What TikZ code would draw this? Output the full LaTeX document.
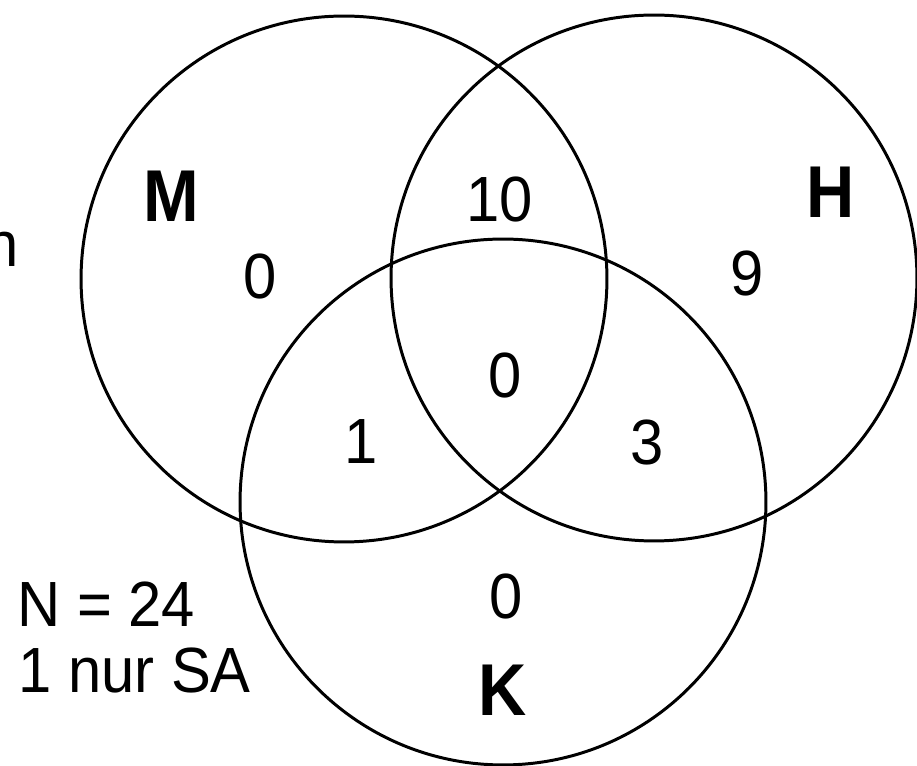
\documentclass[tikz,border=0pt]{standalone}
\usepackage{graphicx}
\usepackage{fontspec}
\setmainfont{Liberation Sans}
\usetikzlibrary{positioning}

\newcommand{\tallnum}[1]{\scalebox{1}[1.07]{#1}}
\newcommand{\tallname}[1]{\scalebox{1}[1.1]{\bfseries #1}}

\begin{document}
\begin{tikzpicture}[x=0.02cm,y=-0.02cm,
  setring/.style={shape=circle,draw=black,line width=1.7pt,minimum size=10.52cm,inner sep=0pt},
  count/.style={inner sep=0pt,anchor=base,font=\fontsize{34}{40}\selectfont},
  setname/.style={inner sep=0pt,anchor=base,font=\fontsize{38}{44}\selectfont}]
\useasboundingbox (0,0) rectangle (917,766);
\clip (0,0) rectangle (917,766);
% the three sets
\node[setring] (M) at (344,279) {};
\node[setring] (H) at (654,278) {};
\node[setring] (K) at (503,502) {};
% set names
\node[setname] (Mname) at (171,222) {\tallname{M}};
\node[setname] (Hname) at (831,218) {\tallname{H}};
\node[setname] (Kname) at (503,716) {\tallname{K}};
% counts
\node[count] (onlyM) at (260,299) {\tallnum{0}};
\node[count] (MH) at (500,222) {\tallnum{10}};
\node[count] (onlyH) at (747,296) {\tallnum{9}};
\node[count] (MHK) at (505,398) {\tallnum{0}};
\node[count] (MK) at (361,464) {\tallnum{1}};
\node[count] (HK) at (647,465) {\tallnum{3}};
\node[count] (onlyK) at (506,619) {\tallnum{0}};
% notes
\node[count,anchor=base east] (cut) at (19,267) {\tallnum{n}};
\node[count,anchor=base west] (total) at (17,627) {\tallnum{N = 24}};
\node[count,anchor=base west] (sa) at (18,693) {\tallnum{1 nur SA}};
\end{tikzpicture}
\end{document}
